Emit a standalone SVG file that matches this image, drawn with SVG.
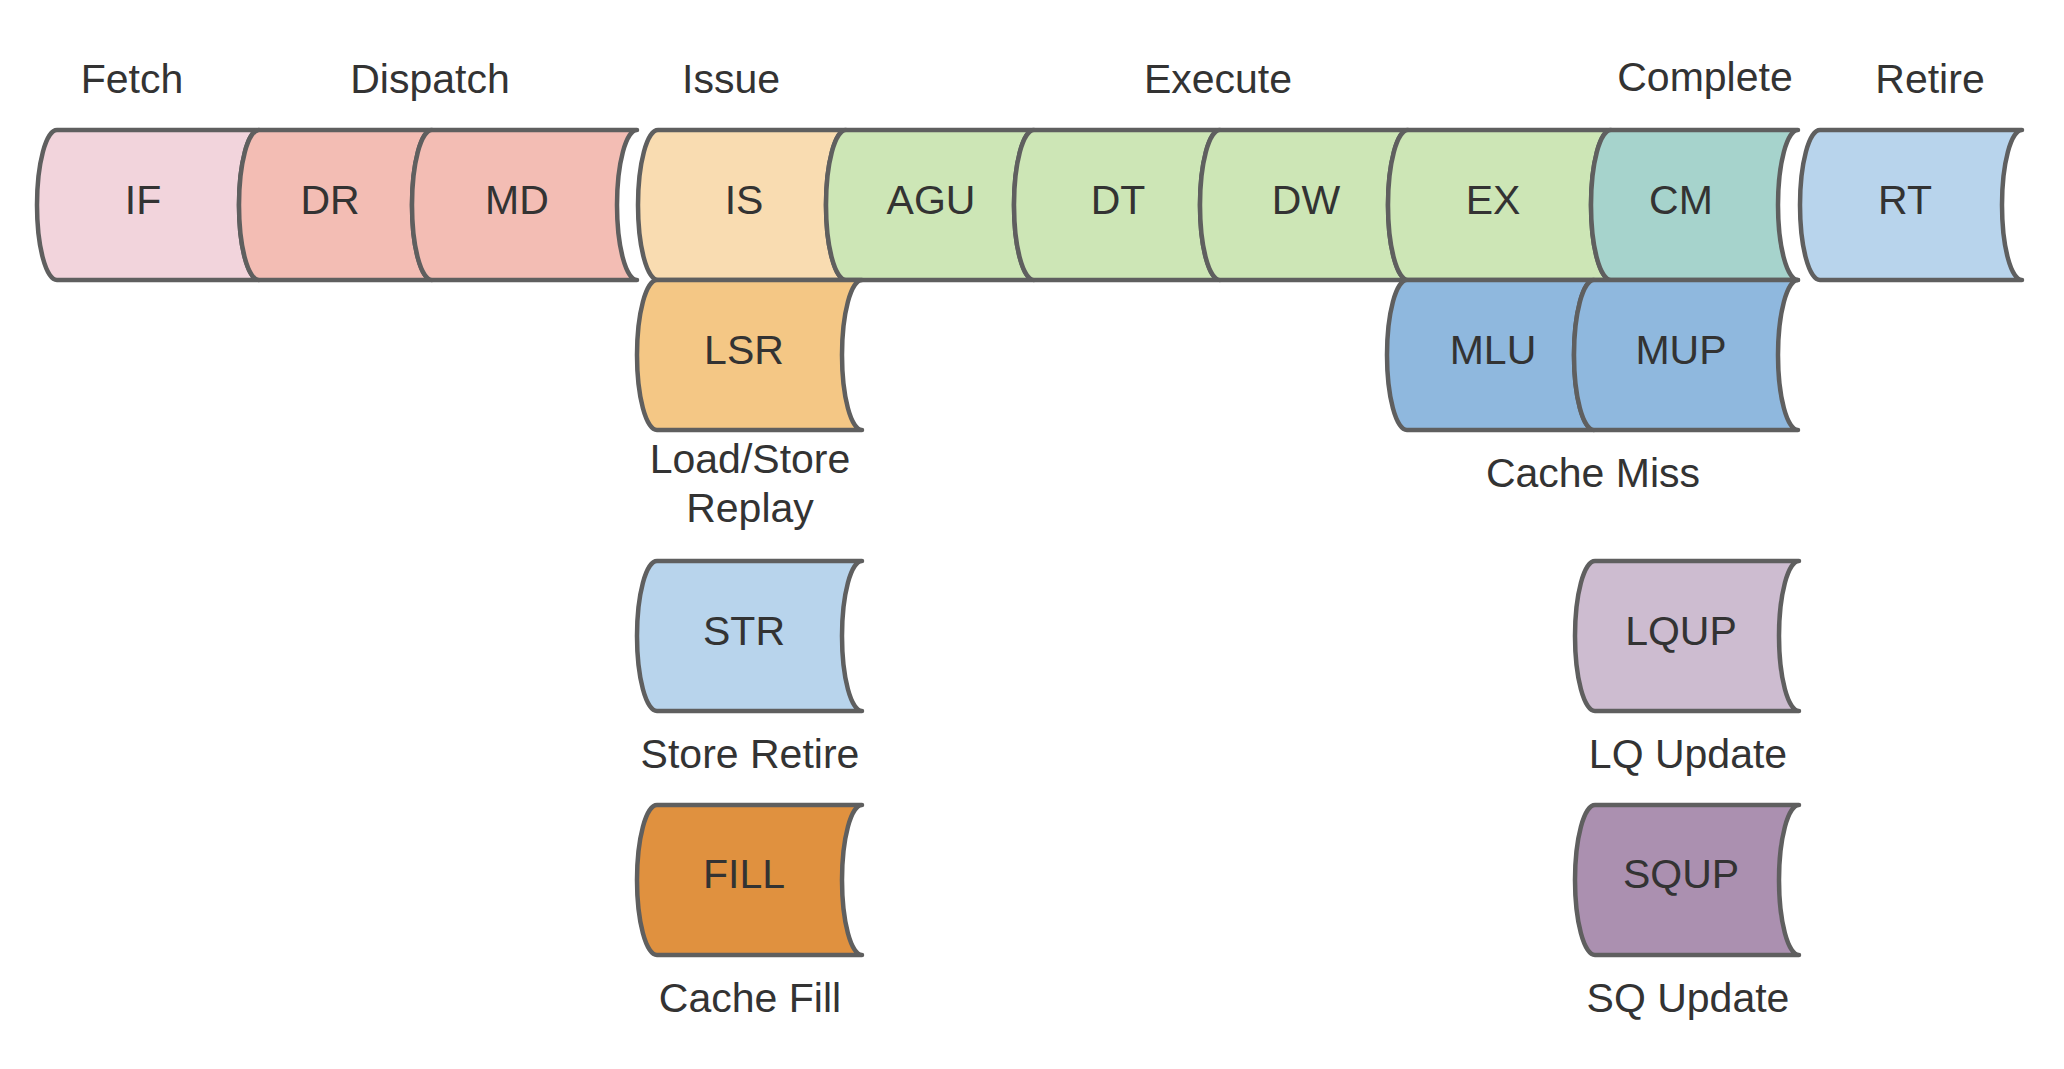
<svg xmlns="http://www.w3.org/2000/svg" width="2064" height="1069" viewBox="0 0 2064 1069">
<style>
.n{stroke:#5f5f5f;stroke-width:4.5;stroke-linejoin:round}
.t{font-family:"Liberation Sans",Arial,sans-serif;font-size:41px;fill:#333333;text-anchor:middle}
</style>
<rect width="2064" height="1069" fill="#ffffff"/>
<g id="headers">
<text class="t" x="132" y="93">Fetch</text>
<text class="t" x="430" y="93">Dispatch</text>
<text class="t" x="731" y="93">Issue</text>
<text class="t" x="1218" y="93">Execute</text>
<text class="t" x="1705" y="91">Complete</text>
<text class="t" x="1930" y="93">Retire</text>
</g>
<g id="connectors"></g>
<g id="IF"><path class="n" fill="#f2d4dc" d="M57 130H259A20 75 0 0 0 259 280H57A20 75 0 0 1 57 130Z"/><text class="t" x="143" y="214">IF</text></g>
<g id="DR"><path class="n" fill="#f3bdb4" d="M259 130H432A20 75 0 0 0 432 280H259A20 75 0 0 1 259 130Z"/><text class="t" x="330" y="214">DR</text></g>
<g id="MD"><path class="n" fill="#f3bdb4" d="M432 130H637A20 75 0 0 0 637 280H432A20 75 0 0 1 432 130Z"/><text class="t" x="517" y="214">MD</text></g>
<g id="IS"><path class="n" fill="#f9dcb1" d="M658 130H846A20 75 0 0 0 846 280H658A20 75 0 0 1 658 130Z"/><text class="t" x="744" y="214">IS</text></g>
<g id="AGU"><path class="n" fill="#cde6b6" d="M846 130H1034A20 75 0 0 0 1034 280H846A20 75 0 0 1 846 130Z"/><text class="t" x="931" y="214">AGU</text></g>
<g id="DT"><path class="n" fill="#cde6b6" d="M1034 130H1220A20 75 0 0 0 1220 280H1034A20 75 0 0 1 1034 130Z"/><text class="t" x="1118" y="214">DT</text></g>
<g id="DW"><path class="n" fill="#cde6b6" d="M1220 130H1408A20 75 0 0 0 1408 280H1220A20 75 0 0 1 1220 130Z"/><text class="t" x="1306" y="214">DW</text></g>
<g id="EX"><path class="n" fill="#cde6b6" d="M1408 130H1611A20 75 0 0 0 1611 280H1408A20 75 0 0 1 1408 130Z"/><text class="t" x="1493" y="214">EX</text></g>
<g id="CM"><path class="n" fill="#a6d3cc" d="M1611 130H1798A20 75 0 0 0 1798 280H1611A20 75 0 0 1 1611 130Z"/><text class="t" x="1681" y="214">CM</text></g>
<g id="RT"><path class="n" fill="#b8d4ec" d="M1820 130H2022A20 75 0 0 0 2022 280H1820A20 75 0 0 1 1820 130Z"/><text class="t" x="1905" y="214">RT</text></g>
<g id="LSR"><path class="n" fill="#f4c785" d="M657 280H862A20 75 0 0 0 862 430H657A20 75 0 0 1 657 280Z"/><text class="t" x="744" y="364">LSR</text></g>
<g id="MLU"><path class="n" fill="#8fb8de" d="M1407 280H1594A20 75 0 0 0 1594 430H1407A20 75 0 0 1 1407 280Z"/><text class="t" x="1493" y="364">MLU</text></g>
<g id="MUP"><path class="n" fill="#8fb8de" d="M1594 280H1798A20 75 0 0 0 1798 430H1594A20 75 0 0 1 1594 280Z"/><text class="t" x="1681" y="364">MUP</text></g>
<g id="STR"><path class="n" fill="#b8d4ec" d="M657 561H862A20 75 0 0 0 862 711H657A20 75 0 0 1 657 561Z"/><text class="t" x="744" y="645">STR</text></g>
<g id="FILL"><path class="n" fill="#e0913f" d="M657 805H862A20 75 0 0 0 862 955H657A20 75 0 0 1 657 805Z"/><text class="t" x="744" y="888">FILL</text></g>
<g id="LQUP"><path class="n" fill="#cdbcd0" d="M1595 561H1799A20 75 0 0 0 1799 711H1595A20 75 0 0 1 1595 561Z"/><text class="t" x="1681" y="645">LQUP</text></g>
<g id="SQUP"><path class="n" fill="#ab90b0" d="M1595 805H1799A20 75 0 0 0 1799 955H1595A20 75 0 0 1 1595 805Z"/><text class="t" x="1681" y="888">SQUP</text></g>
<g id="labels">
<text class="t" x="750" y="473">Load/Store</text>
<text class="t" x="750" y="522">Replay</text>
<text class="t" x="1593" y="487">Cache Miss</text>
<text class="t" x="750" y="768">Store Retire</text>
<text class="t" x="1688" y="768">LQ Update</text>
<text class="t" x="750" y="1012">Cache Fill</text>
<text class="t" x="1688" y="1012">SQ Update</text>
</g>
</svg>
